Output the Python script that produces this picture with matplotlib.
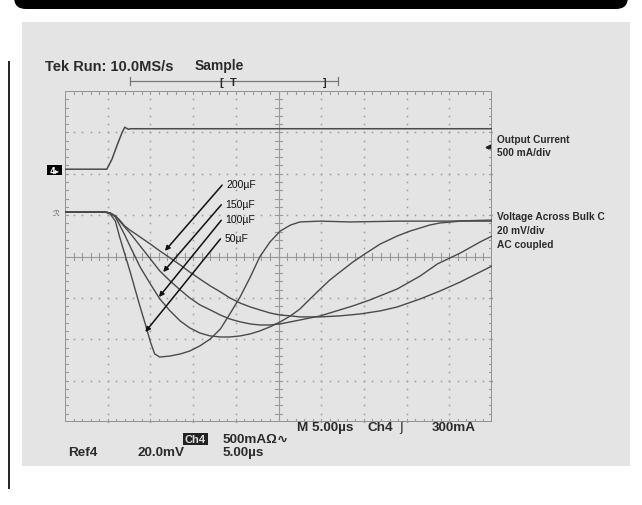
import numpy as np
import matplotlib
matplotlib.use("Agg")
import matplotlib.pyplot as plt
from matplotlib.patches import FancyBboxPatch, Rectangle

# ---------------- data (time in us, voltage in mV, current in mA) ----------------
t_50 = [0, 4.7, 5.3, 5.9, 6.4, 7.0, 7.6, 8.2, 8.8, 9.4, 10.0, 10.5, 11.1, 12.3, 13.5, 14.6,
        15.8, 17.0, 18.2, 19.3, 20.5, 21.7, 22.8, 24.0, 25.2, 26.4, 27.5, 29.9, 33.4, 39.2, 45.1, 50]
v_50 = [21.5, 21.5, 20.5, 17.1, 9.4, 1.2, -7.0, -15.7, -24.4, -32.6, -41.3, -47.1, -48.6, -48.1, -47.1, -45.7,
        -43.2, -39.9, -35.0, -27.8, -19.6, -9.9, -0.2, 7.0, 12.3, 15.2, 16.7, 17.1, 16.7, 17.1, 17.1, 17.6]

t_100 = [0, 4.7, 5.3, 5.9, 6.4, 7.0, 7.6, 8.8, 10.0, 11.1, 12.3, 13.5, 14.6, 15.8, 17.0, 18.2, 19.3,
         20.5, 21.7, 22.8, 24.0, 25.2, 26.4, 27.5, 28.7, 29.9, 31.0, 32.2, 33.7, 35.1, 36.9, 38.9,
         40.4, 41.6, 42.7, 43.9, 46.3, 50]
v_100 = [21.5, 21.5, 21.0, 19.1, 15.2, 10.4, 5.1, -5.1, -13.3, -20.5, -26.3, -31.2, -34.5, -37.0, -38.4, -38.9, -38.9,
         -38.4, -37.4, -36.0, -34.0, -31.6, -28.7, -25.4, -20.5, -15.7, -11.4, -7.5, -2.7, 1.2, 6.0, 9.9,
         12.3, 13.8, 15.2, 16.2, 17.1, 17.1]

t_150 = [0, 4.7, 5.3, 5.9, 6.4, 7.0, 7.6, 8.8, 10.0, 11.1, 12.3, 13.5, 14.6, 15.8, 17.0, 18.2, 19.3,
         20.5, 21.7, 22.8, 24.0, 25.2, 26.4, 27.5, 29.9, 32.2, 33.7, 35.7, 38.9, 41.6, 43.6, 46.3, 48.6, 50]
v_150 = [21.5, 21.5, 21.0, 19.6, 17.1, 14.2, 11.4, 5.1, -1.2, -7.0, -11.8, -16.2, -20.0, -23.4, -25.8, -28.3, -30.2,
         -31.6, -32.6, -33.1, -33.1, -32.6, -31.6, -30.7, -28.7, -25.8, -23.9, -21.0, -15.7, -9.4, -3.6, 1.7, 7.0, 9.9]

t_200 = [0, 4.7, 5.3, 5.9, 6.4, 7.0, 7.6, 8.8, 10.0, 11.1, 12.3, 13.5, 14.6, 15.8, 17.0, 18.2, 19.3,
         20.5, 21.7, 22.8, 24.0, 25.2, 26.4, 27.5, 29.9, 32.2, 34.5, 36.9, 38.9, 41.6, 43.9, 46.3, 48.6, 50]
v_200 = [21.5, 21.5, 21.0, 19.6, 17.6, 14.7, 12.8, 9.4, 6.0, 2.7, -0.7, -4.1, -7.5, -10.9, -14.2, -17.1, -20.0,
         -22.5, -24.4, -25.8, -27.3, -28.3, -28.7, -29.2, -29.2, -28.7, -27.8, -26.3, -24.4, -20.5, -16.7, -12.3, -7.5, -4.6]

t_cur = [0, 4.9, 5.5, 6.1, 6.7, 7.0, 7.4, 7.7, 50]
i_cur = [0, 0, 121, 290, 447, 507, 483, 489, 489]

cap_labels = ["200\u00b5F", "150\u00b5F", "100\u00b5F", "50\u00b5F"]
arrow_tip = [(11.7, 2.7), (11.5, -7.5), (11.0, -19.6), (9.4, -36.5)]
arrow_tail = [(18.4, 34.5), (18.3, 25.0), (18.3, 17.5), (18.2, 8.5)]

# ---------------- figure ----------------
W, H = 642, 506
fig = plt.figure(figsize=(W / 100, H / 100), dpi=100)
fig.patch.set_facecolor("white")

bg = fig.add_axes([0, 0, 1, 1])
bg.set_xlim(0, W)
bg.set_ylim(H, 0)
bg.axis("off")
bg.add_patch(FancyBboxPatch((14, -40), 614, 50, boxstyle="round,pad=0,rounding_size=12",
                            fc="black", ec="none"))
bg.add_patch(Rectangle((22, 23), 608, 444, fc="#e4e4e4", ec="none"))
bg.plot([8.5, 8.5], [62, 490], color="#222222", lw=1.4, solid_capstyle="butt")

tc = "#2b2b2b"
fnt = "Liberation Sans"
bg.text(45, 67, "Tek Run: 10.0MS/s", fontsize=10.5, fontweight="bold", family=fnt, color=tc, va="center")
bg.text(195, 66, "Sample", fontsize=10, fontweight="bold", family=fnt, color=tc, va="center")
# trigger bar
bg.plot([130, 338], [82, 82], color="#777777", lw=0.9)
bg.plot([130, 130], [78, 86], color="#777777", lw=0.9)
bg.plot([338, 338], [78, 86], color="#777777", lw=0.9)
bg.text(221, 83, "[", fontsize=8, fontweight="bold", family=fnt, color=tc, va="center", ha="center")
bg.text(233, 83, "T", fontsize=8, fontweight="bold", family=fnt, color=tc, va="center", ha="center")
bg.text(325, 83, "]", fontsize=8, fontweight="bold", family=fnt, color=tc, va="center", ha="center")

# right side labels
for txt, y in [("Output Current", 140), ("500 mA/div", 153), ("Voltage Across Bulk C", 217),
               ("20 mV/div", 231), ("AC coupled", 245)]:
    bg.text(497, y, txt, fontsize=7.3, fontweight="bold", family=fnt, color=tc, va="center")

# bottom readouts
bg.text(297, 428, "M 5.00\u00b5s", fontsize=9.7, family=fnt, fontweight="bold", color=tc, va="center")
bg.text(367, 428, "Ch4", fontsize=9.7, family=fnt, fontweight="bold", color=tc, va="center")
bg.text(399, 428, "\u0283", fontsize=9.5, family="DejaVu Sans", color=tc, va="center")
bg.text(432, 428, "300mA", fontsize=9.7, family=fnt, fontweight="bold", color=tc, va="center")
bg.add_patch(Rectangle((183, 434), 25, 12, fc="#222222", ec="none"))
bg.text(195.5, 440, "Ch4", fontsize=8, family=fnt, fontweight="bold", color="#dddddd", va="center", ha="center")
bg.text(223, 440, "500mA\u03a9\u223f", fontsize=9.7, family=["Liberation Sans", "DejaVu Sans"],
        fontweight="bold", color=tc, va="center")
bg.text(68, 453, "Ref4", fontsize=9.7, family=fnt, fontweight="bold", color=tc, va="center")
bg.text(138, 453, "20.0mV", fontsize=9.7, family=fnt, fontweight="bold", color=tc, va="center")
bg.text(223, 453, "5.00\u00b5s", fontsize=9.7, family=fnt, fontweight="bold", color=tc, va="center")

# channel markers
bg.add_patch(Rectangle((47, 166), 15, 10, fc="black", ec="none"))
bg.text(54.5, 171, "4\u25b8", fontsize=6, family="DejaVu Sans", fontweight="bold", color="white",
        va="center", ha="center")
bg.text(56, 213, "\u211b", fontsize=6, family="DejaVu Sans", color="#666666", va="center", ha="center")
bg.plot([488], [148], marker="<", ms=3.5, color="#222222")

# ---------------- scope screen ----------------
ax = fig.add_axes([65 / W, (H - 423) / H, 427 / W, 331 / H])
ax.set_xlim(0, 50)
ax.set_ylim(-80, 80)
ax.axis("off")
ax.patch.set_alpha(0)

gc = "#9a9a9a"
for xv in range(5, 50, 5):
    if xv == 25:
        continue
    ys = np.arange(-80, 80.1, 4)
    ax.plot(np.full_like(ys, xv), ys, ls="none", marker="s", ms=1.1, mew=0, color=gc)
for yv in range(-60, 80, 20):
    if yv == 0:
        continue
    xs = np.arange(0, 50.1, 1)
    ax.plot(xs, np.full_like(xs, yv), ls="none", marker="s", ms=1.1, mew=0, color=gc)
ax.axhline(0, color=gc, lw=0.8)
ax.axvline(25, color=gc, lw=0.8)
for xv in np.arange(0, 50.1, 1):
    ax.plot([xv, xv], [-1.6, 1.6], color=gc, lw=0.8)
    ax.plot([xv, xv], [-80, -78.4], color=gc, lw=0.8)
    ax.plot([xv, xv], [80, 78.4], color=gc, lw=0.8)
for yv in np.arange(-80, 80.1, 4):
    ax.plot([24.55, 25.45], [yv, yv], color=gc, lw=0.8)
    ax.plot([0, 0.4], [yv, yv], color=gc, lw=0.8)
    ax.plot([50, 49.6], [yv, yv], color=gc, lw=0.8)
ax.add_patch(Rectangle((0, -80), 50, 160, fill=False, ec="#8a8a8a", lw=1.3))

trace = "#4a4a4a"
for t, v in [(t_50, v_50), (t_100, v_100), (t_150, v_150), (t_200, v_200)]:
    ax.plot(t, v, color=trace, lw=1.0)

# current channel: 500 mA/div, zero 2.11 div above centre
ax2 = ax.twinx()
ax2.axis("off")
off = 2.11
ax2.set_ylim(-(4 + off) * 500, (4 - off) * 500)
ax2.plot(t_cur, i_cur, color=trace, lw=1.1)

for lab, tip, tail in zip(cap_labels, arrow_tip, arrow_tail):
    ax.annotate("", xy=tip, xytext=tail,
                arrowprops=dict(arrowstyle="-|>", color="#111111", lw=1.1, mutation_scale=7,
                                shrinkA=0, shrinkB=0))
    ax.text(tail[0] + 0.5, tail[1] + 0.5, lab, fontsize=7.5, family=fnt, color="#111111",
            va="center", ha="left")

fig.savefig("out.png", dpi=100, facecolor="white")
